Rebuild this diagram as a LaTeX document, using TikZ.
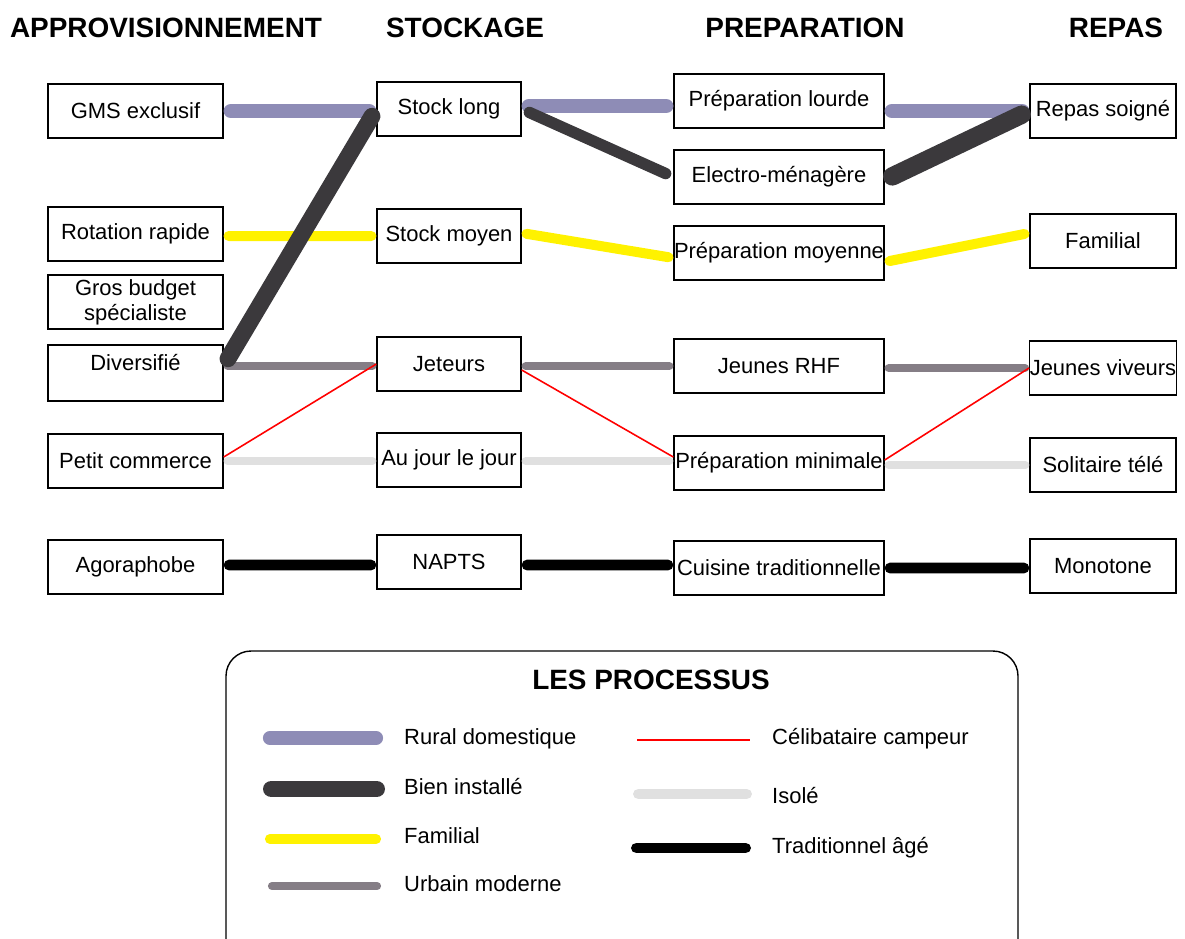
\documentclass[tikz,border=0pt]{standalone}
\usepackage{fontspec}
\setmainfont{Liberation Sans}
\usepackage{xcolor}
\usepackage{tikz}

\definecolor{ruralc}{HTML}{8E8CB6}
\definecolor{installec}{HTML}{3B393C}
\definecolor{urbainc}{HTML}{857E86}
\definecolor{isolec}{HTML}{E0E0E0}

\begin{document}
\begin{tikzpicture}[
    x=0.02cm, y=-0.02cm,
    box/.style={rectangle, draw=black, line width=0.8pt, minimum height=1.08cm, inner sep=0pt, align=center, font=\fontsize{12.5}{14.2}\selectfont},
    appro/.style={box, minimum width=3.5cm},
    stock/.style={box, minimum width=2.88cm},
    prep/.style={box, minimum width=4.2cm},
    repas/.style={box, minimum width=2.92cm},
    head/.style={font=\bfseries\fontsize{15.9}{18}\selectfont},
    legtxt/.style={anchor=west, font=\fontsize{12.5}{15}\selectfont},
    rural/.style={draw=ruralc, line width=7.9pt, line cap=round, shorten <=3.9pt, shorten >=3.9pt},
    installe/.style={draw=installec, line width=9.6pt, line cap=round, shorten <=4.8pt, shorten >=4.8pt},
    familialp/.style={draw=yellow, line width=5.7pt, line cap=round, shorten <=2.8pt, shorten >=2.8pt},
    urbain/.style={draw=urbainc, line width=4.5pt, line cap=round, shorten <=2.2pt, shorten >=2.2pt},
    campeur/.style={draw=red, line width=0.9pt},
    isole/.style={draw=isolec, line width=4.5pt, line cap=round, shorten <=2.2pt, shorten >=2.2pt},
    tradi/.style={draw=black, line width=6.2pt, line cap=round, shorten <=3.1pt, shorten >=3.1pt}
]
\useasboundingbox (0,0) rectangle (1185,938);
\clip (0,0) rectangle (1185,938);

% column titles
\node[head] (happro) at (166,28) {APPROVISIONNEMENT};
\node[head] (hstock) at (465,28) {STOCKAGE};
\node[head] (hprep) at (805,28) {PREPARATION};
\node[head] (hrepas) at (1116,28) {REPAS};

% approvisionnement
\node[appro] (gms) at (135.5,111) {GMS exclusif};
\node[appro] (rotation) at (135.5,234) {Rotation rapide};
\node[appro] (grosbudget) at (135.5,302) {Gros budget\\spécialiste};
\node[appro, minimum height=1.12cm, text depth=0.42cm] (diversifie) at (135.5,373) {Diversifié};
\node[appro] (petit) at (135.5,461) {Petit commerce};
\node[appro] (agoraphobe) at (135.5,567) {Agoraphobe};

% stockage
\node[stock] (stocklong) at (449,109) {Stock long};
\node[stock] (stockmoyen) at (449,236) {Stock moyen};
\node[stock] (jeteurs) at (449,364) {Jeteurs};
\node[stock] (aujour) at (449,460) {Au jour le jour};
\node[stock] (napts) at (449,562) {NAPTS};

% preparation
\node[prep] (preplourde) at (779,101) {Préparation lourde};
\node[prep] (electro) at (779,177) {Electro-ménagère};
\node[prep] (prepmoyenne) at (779,253) {Préparation moyenne};
\node[prep] (jeunesrhf) at (779,366) {Jeunes RHF};
\node[prep] (prepmin) at (779,463) {Préparation minimale};
\node[prep] (cuisine) at (779,568) {Cuisine traditionnelle};

% repas
\node[repas] (soigne) at (1103,111) {Repas soigné};
\node[repas] (familial) at (1103,241) {Familial};
\node[repas] (viveurs) at (1103,368) {Jeunes viveurs};
\node[repas] (solitaire) at (1103,465) {Solitaire télé};
\node[repas] (monotone) at (1103,566) {Monotone};

% processus
\draw[familialp] ([yshift=-0.04cm]rotation.east) -- (stockmoyen.west);
\draw[familialp] ([yshift=0.06cm]stockmoyen.east) -- ([yshift=-0.1cm]prepmoyenne.west);
\draw[familialp] ([yshift=-0.18cm]prepmoyenne.east) -- ([yshift=0.16cm]familial.west);

\draw[urbain] ([yshift=0.14cm]diversifie.east) -- ([yshift=-0.04cm]jeteurs.west);
\draw[urbain] ([yshift=-0.04cm]jeteurs.east) -- (jeunesrhf.west);
\draw[urbain] ([yshift=-0.04cm]jeunesrhf.east) -- (viveurs.west);

\draw[isole] (petit.east) -- ([yshift=-0.02cm]aujour.west);
\draw[isole] ([yshift=-0.02cm]aujour.east) -- ([yshift=0.04cm]prepmin.west);
\draw[isole] ([yshift=-0.04cm]prepmin.east) -- (solitaire.west);

\draw[campeur] ([yshift=0.08cm]petit.east) -- (jeteurs.west);
\draw[campeur] ([yshift=-0.12cm]jeteurs.east) -- ([yshift=0.12cm]prepmin.west);
\draw[campeur] ([yshift=0.06cm]prepmin.east) -- (viveurs.west);

\draw[tradi] ([yshift=0.04cm]agoraphobe.east) -- ([yshift=-0.06cm]napts.west);
\draw[tradi] ([yshift=-0.06cm]napts.east) -- ([yshift=0.06cm]cuisine.west);
\draw[tradi] (cuisine.east) -- ([yshift=-0.04cm]monotone.west);

\draw[rural] (gms.east) -- ([yshift=-0.04cm]stocklong.west);
\draw[rural] ([yshift=0.06cm]stocklong.east) -- ([yshift=-0.1cm]preplourde.west);
\draw[rural] ([yshift=-0.2cm]preplourde.east) -- (soigne.west);

\draw[installe] ([yshift=0.14cm]diversifie.east) -- (stocklong.west);
\draw[installe, line width=6.5pt] (stocklong.east) -- (electro.west);
\draw[installe, line width=10.5pt] ([yshift=-0.06cm]electro.east) -- (soigne.west);

% legende
\draw[line width=0.8pt, rounded corners=0.5cm] (226,651) rectangle (1018,980);
\node[head] (legtitle) at (651,680) {LES PROCESSUS};

\draw[rural] (263,738) -- (383,738);
\node[legtxt] (lrural) at (398,739) {Rural domestique};
\draw[installe] (263,789) -- (385,789);
\node[legtxt] (linstalle) at (398,786) {Bien installé};
\draw[familialp] (265,839) -- (381,839);
\node[legtxt] (lfamilial) at (398,836) {Familial};
\draw[urbain] (268,886) -- (381,886);
\node[legtxt] (lurbain) at (398,884) {Urbain moderne};

\draw[campeur] (637,740) -- (750,740);
\node[legtxt] (lcampeur) at (766,739) {Célibataire campeur};
\draw[isole, line width=6.2pt, shorten <=3.1pt, shorten >=3.1pt] (633,794) -- (752,794);
\node[legtxt] (lisole) at (766,795) {Isolé};
\draw[tradi] (631,848) -- (751,848);
\node[legtxt] (ltradi) at (766,848) {Traditionnel âgé};
\end{tikzpicture}
\end{document}
